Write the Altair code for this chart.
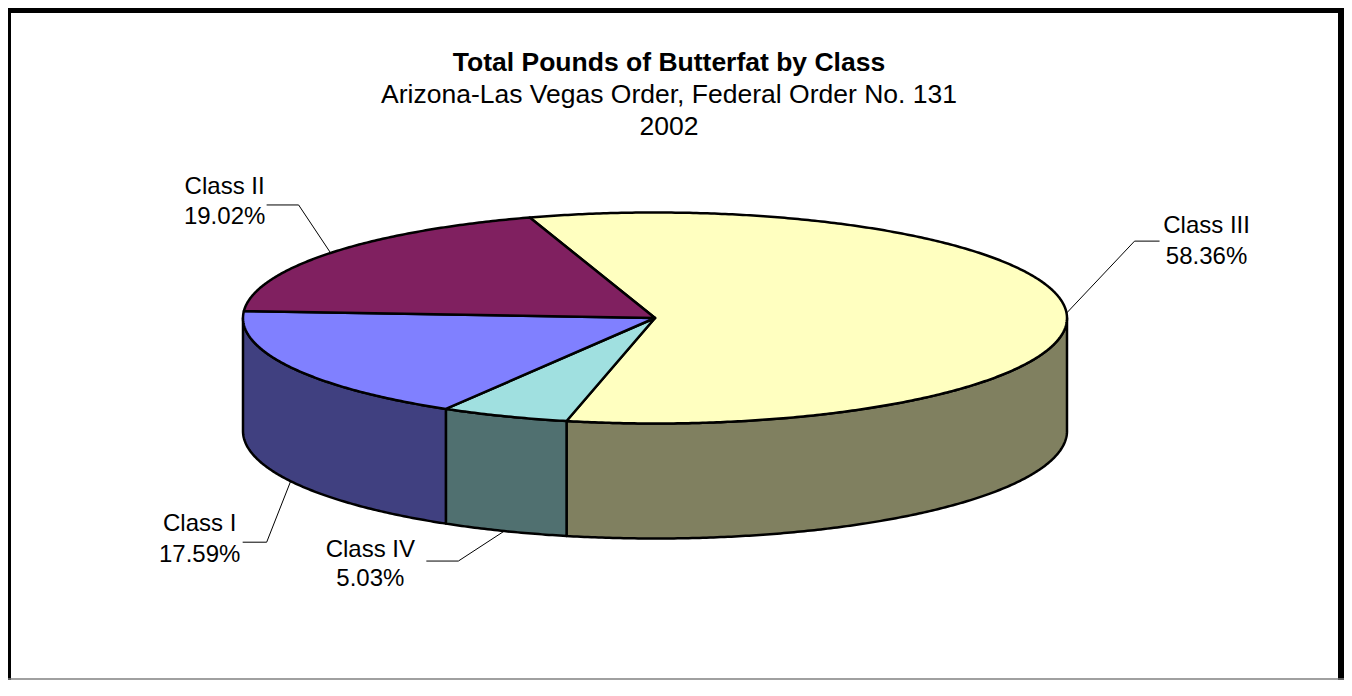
import math
import altair as alt
import pandas as pd

# ---------------- data ----------------
categories = ["Class III", "Class IV", "Class I", "Class II"]
shares = [58.36, 5.03, 17.59, 19.02]
top_colors = ["#FFFFC0", "#A0E0E0", "#8080FF", "#802060"]
side_colors = ["#808060", "#507070", "#404080", "#401030"]
title_text = "Total Pounds of Butterfat by Class"
subtitle_lines = ["Arizona-Las Vegas Order, Federal Order No. 131", "2002"]

# ---------------- style / geometry ----------------
W, H = 1336, 672
CX, CY = 647.0, 310.0          # centre of the top face (chart pixels)
RX, RY = 412.0, 105.5          # top-face ellipse radii
BOTTOM_RY = 107.5              # bottom rim ellipse (slight perspective)
DEPTH = 113.0                  # pie thickness
START_DEG = -17.7              # angle where the first slice starts (clockwise from top)
FONT = "Liberation Sans, Arial, sans-serif"

# leader line styling per category: elbow offset from the rim point, horizontal run,
# label centre offset from the line end, and vertical offsets of the two label lines
leader_elbow = [(68, -72), (-46, 30), (-24, 61), (-32, -48)]
leader_run = [25, -32, -24, -32]
label_dx = [47, -56, -43, -42]
name_dy = [-15, -11, -18, -18]
pct_dy = [16, 18, 13, 12]


def rim(t_deg, drop=0.0, ry=RY):
    t = math.radians(t_deg)
    return [CX + RX * math.sin(t), CY - ry * math.cos(t) + drop]


def arc(t0, t1, drop=0.0, ry=RY):
    n = max(2, int(abs(t1 - t0) / 0.5) + 1)
    return [rim(t0 + (t1 - t0) * j / (n - 1), drop, ry) for j in range(n)]


def feature(key, ring):
    return {"type": "Feature", "properties": {"key": key},
            "geometry": {"type": "Polygon", "coordinates": [ring]}}


bounds = []
a = START_DEG
for s in shares:
    b = a + s * 3.6
    bounds.append((a, b))
    a = b

side_feats, top_feats = [], []
apex = [CX, CY]
for cat, (a0, a1) in zip(categories, bounds):
    for k in (-1, 0, 1):
        s0 = max(a0, 90 + 360 * k)
        s1 = min(a1, 270 + 360 * k)
        if s1 > s0:
            top = arc(s0, s1)
            bot = arc(s1, s0, DEPTH, BOTTOM_RY)
            side_feats.append(feature(cat + " side", top + bot + [top[0]]))
    top_feats.append(feature(cat + " top", [apex] + arc(a0, a1) + [apex]))

color_domain = [c + " top" for c in categories] + [c + " side" for c in categories]
color_range = top_colors + side_colors

proj = alt.Projection(type="identity", scale=1, translate=[0, 0])

pie = alt.Chart(alt.Data(values=side_feats + top_feats)).mark_geoshape(
    stroke="black", strokeWidth=2.5, strokeJoin="round"
).encode(
    color=alt.Color("properties.key:N",
                    scale=alt.Scale(domain=color_domain, range=color_range),
                    legend=None)
).project(**proj.to_dict())

# leader lines and labels
seg_rows, label_rows = [], []
for i, (cat, (a0, a1)) in enumerate(zip(categories, bounds)):
    m = (a0 + a1) / 2
    if math.cos(math.radians(m)) < 0:
        sx, sy = rim(m, DEPTH, BOTTOM_RY)
    else:
        sx, sy = rim(m)
    ex, ey = sx + leader_elbow[i][0], sy + leader_elbow[i][1]
    fx = ex + leader_run[i]
    seg_rows.append({"lon": sx, "lat": sy, "lon2": ex, "lat2": ey})
    seg_rows.append({"lon": ex, "lat": ey, "lon2": fx, "lat2": ey})
    label_rows.append({"lon": fx + label_dx[i], "lat": ey + name_dy[i], "text": cat})
    label_rows.append({"lon": fx + label_dx[i], "lat": ey + pct_dy[i],
                       "text": f"{shares[i]:.2f}%"})

leaders = alt.Chart(pd.DataFrame(seg_rows)).mark_rule(
    color="black", strokeWidth=1
).encode(
    longitude="lon:Q", latitude="lat:Q", longitude2="lon2:Q", latitude2="lat2:Q"
).project(**proj.to_dict())

labels = alt.Chart(pd.DataFrame(label_rows)).mark_text(
    font=FONT, fontSize=24, color="black", align="center", baseline="middle"
).encode(
    longitude="lon:Q", latitude="lat:Q", text="text:N"
).project(**proj.to_dict())

one = pd.DataFrame({"k": [0]})

title = alt.Chart(one).mark_text(
    font=FONT, fontSize=26.5, fontWeight="bold", color="black",
    align="center", baseline="middle", text=title_text
).encode(x=alt.value(661), y=alt.value(55))

sub1 = alt.Chart(one).mark_text(
    font=FONT, fontSize=26.5, color="black", align="center", baseline="middle",
    text=subtitle_lines[0]
).encode(x=alt.value(661), y=alt.value(87))

sub2 = alt.Chart(one).mark_text(
    font=FONT, fontSize=26.5, color="black", align="center", baseline="middle",
    text=subtitle_lines[1]
).encode(x=alt.value(661), y=alt.value(119))

frame_top = alt.Chart(one).mark_rule(color="black", strokeWidth=10).encode(
    x=alt.value(0), x2=alt.value(W), y=alt.value(0))
frame_left = alt.Chart(one).mark_rule(color="black", strokeWidth=6).encode(
    x=alt.value(0), y=alt.value(0), y2=alt.value(H))
frame_right = alt.Chart(one).mark_rule(color="black", strokeWidth=6).encode(
    x=alt.value(W - 3), y=alt.value(0), y2=alt.value(H))
frame_bottom = alt.Chart(one).mark_rule(color="#808080", strokeWidth=1.5).encode(
    x=alt.value(0), x2=alt.value(W), y=alt.value(H - 1))

chart = alt.layer(
    pie, leaders, labels, title, sub1, sub2,
    frame_top, frame_left, frame_right, frame_bottom
).properties(
    width=W, height=H, padding=0,
    autosize=alt.AutoSizeParams(type="none")
).configure_view(stroke=None).configure(background="white")

chart.save("out.html", embed_options={"renderer": "svg", "actions": False})
